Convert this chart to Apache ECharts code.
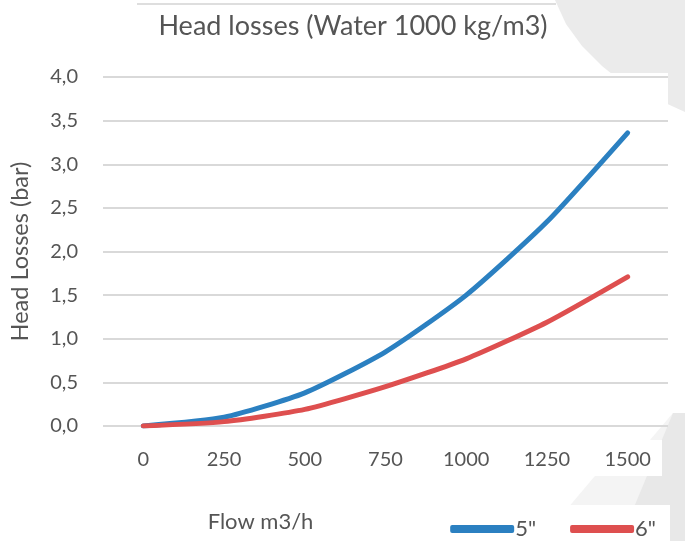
<!DOCTYPE html>
<html>
<head>
<meta charset="utf-8">
<script src="https://cdn.jsdelivr.net/npm/echarts@6/dist/echarts.min.js"></script>
<style>
  html, body { margin: 0; padding: 0; background: #fff; }
  #chart { width: 685px; height: 541px; }
</style>
</head>
<body>
<div id="chart"></div>
<script>
// flow categories (m3/h)
const flows = ['0', '250', '500', '750', '1000', '1250', '1500'];
// head losses in bar
const loss5 = [0.00, 0.10, 0.38, 0.85, 1.50, 2.34, 3.36];
const loss6 = [0.00, 0.05, 0.19, 0.45, 0.77, 1.19, 1.71];

const font = 'Lato';
const textColor = '#555555';

const chart = echarts.init(document.getElementById('chart'));

chart.setOption({
    backgroundColor: '#fff',
    textStyle: { fontFamily: font },
    // light grey watermark shapes behind the chart, with white boxes on top
    graphic: [
        {
            type: 'polygon', z: -10, silent: true,
            shape: { points: [[555, 0], [685, 0], [685, 112], [650, 96], [622, 82], [602, 66], [582, 46], [566, 24]] },
            style: { fill: '#ebebeb' }
        },
        {
            type: 'polygon', z: -10, silent: true,
            shape: { points: [[540, 541], [600, 470], [650, 440], [673, 413], [685, 413], [685, 541]] },
            style: { fill: '#f4f4f4' }
        },
        {
            type: 'polygon', z: -10, silent: true,
            shape: { points: [[673, 413], [685, 413], [685, 541], [620, 541]] },
            style: { fill: '#e8e8e8' }
        },
        {
            type: 'rect', z: -9, silent: true,
            shape: { x: 104, y: 4, width: 452, height: 40 },
            style: { fill: '#fff' }
        },
        {
            type: 'line', z: -9, silent: true,
            shape: { x1: 137, y1: 4, x2: 556, y2: 4 },
            style: { stroke: '#bdbdbd', lineWidth: 1 }
        },
        {
            type: 'rect', z: -9, silent: true,
            shape: { x: 97, y: 73, width: 571, height: 340 },
            style: { fill: '#fff' }
        },
        {
            type: 'rect', z: -9, silent: true,
            shape: { x: 100, y: 440, width: 562, height: 36 },
            style: { fill: '#fff' }
        },
        {
            type: 'rect', z: -9, silent: true,
            shape: { x: 438, y: 505, width: 232, height: 36 },
            style: { fill: '#fff' }
        }
    ],
    title: {
        text: 'Head losses (Water 1000 kg/m3)',
        left: 348,
        textAlign: 'center',
        top: 8,
        textStyle: { fontFamily: font, fontSize: 27, fontWeight: 'normal', color: textColor }
    },
    legend: {
        right: 24,
        top: 513,
        itemWidth: 64,
        itemHeight: 8,
        itemGap: 34,
        icon: 'roundRect',
        textStyle: { fontFamily: font, fontSize: 22, color: textColor, padding: [0, 0, 0, -4] },
        data: ['5"', '6"']
    },
    grid: { left: 97, right: 17, top: 77, bottom: 115 },
    xAxis: {
        type: 'category',
        data: flows,
        boundaryGap: true,
        name: 'Flow m3/h',
        nameLocation: 'middle',
        nameGap: 85,
        nameTextStyle: { fontFamily: font, fontSize: 22, color: textColor, padding: [0, 250, 0, 0] },
        axisLine: { show: false },
        axisTick: { show: false },
        axisLabel: { fontFamily: font, fontSize: 20, color: textColor, margin: 24 }
    },
    yAxis: {
        type: 'value',
        min: 0,
        max: 4,
        interval: 0.5,
        name: 'Head Losses (bar)',
        nameLocation: 'middle',
        nameGap: 71,
        nameTextStyle: { fontFamily: font, fontSize: 23.5, color: textColor },
        axisLabel: {
            fontFamily: font, fontSize: 20, color: textColor, margin: 25,
            formatter: v => v.toFixed(1).replace('.', ',')
        },
        splitLine: { lineStyle: { color: '#d9d9d9', width: 2 } }
    },
    series: [
        {
            name: '5"',
            type: 'line',
            data: loss5,
            smooth: 0.2,
            symbol: 'none',
            lineStyle: { width: 5, color: '#2b80c1', cap: 'round' },
            itemStyle: { color: '#2b80c1' }
        },
        {
            name: '6"',
            type: 'line',
            data: loss6,
            smooth: 0.2,
            symbol: 'none',
            lineStyle: { width: 5, color: '#de4f4f', cap: 'round' },
            itemStyle: { color: '#de4f4f' }
        }
    ]
});
</script>
</body>
</html>
